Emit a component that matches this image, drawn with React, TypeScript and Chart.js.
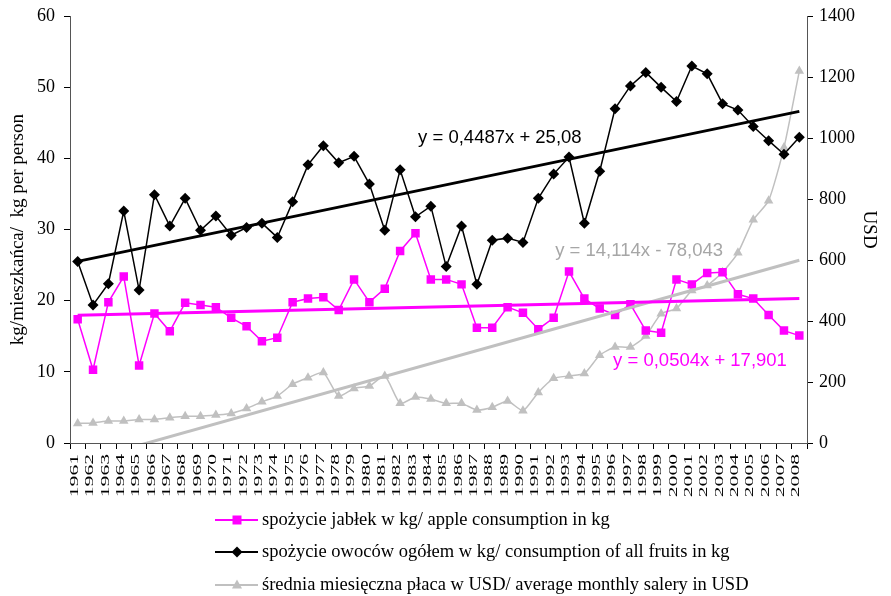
import React, { useEffect, useRef } from "react";
import { Chart, registerables } from "chart.js";

Chart.register(...registerables);

const years = [
  "1961", "1962", "1963", "1964", "1965", "1966", "1967", "1968", "1969", "1970",
  "1971", "1972", "1973", "1974", "1975", "1976", "1977", "1978", "1979", "1980",
  "1981", "1982", "1983", "1984", "1985", "1986", "1987", "1988", "1989", "1990",
  "1991", "1992", "1993", "1994", "1995", "1996", "1997", "1998", "1999", "2000",
  "2001", "2002", "2003", "2004", "2005", "2006", "2007", "2008",
];

const appleKg = [
  17.4, 10.3, 19.8, 23.4, 10.9, 18.2, 15.7, 19.7, 19.4, 19.1,
  17.6, 16.4, 14.3, 14.8, 19.8, 20.3, 20.5, 18.7, 23.0, 19.8,
  21.7, 27.0, 29.5, 23.0, 23.0, 22.3, 16.2, 16.2, 19.1, 18.3,
  16.0, 17.6, 24.1, 20.3, 18.9, 18.0, 19.5, 15.8, 15.5, 23.0,
  22.3, 23.9, 24.0, 20.9, 20.3, 18.0, 15.8, 15.1,
];

const fruitKg = [
  25.5, 19.4, 22.4, 32.6, 21.5, 34.9, 30.5, 34.4, 29.9, 31.9,
  29.2, 30.3, 30.9, 28.9, 33.9, 39.1, 41.8, 39.4, 40.3, 36.4,
  29.9, 38.4, 31.8, 33.3, 24.8, 30.5, 22.3, 28.5, 28.8, 28.2,
  34.4, 37.8, 40.2, 30.9, 38.2, 47.0, 50.2, 52.1, 50.0, 48.0,
  53.0, 51.9, 47.7, 46.8, 44.5, 42.5, 40.6, 43.0,
];

const salaryUsd = [
  64, 66, 72, 72, 77, 77, 83, 88, 88, 92,
  97, 113, 135, 154, 193, 214, 231, 154, 179, 187,
  220, 130, 151, 144, 130, 130, 108, 117, 138, 106,
  166, 212, 220, 228, 288, 315, 315, 351, 424, 441,
  500, 517, 560, 624, 732, 795, 969, 1220,
];

// Linear trend lines as printed on the chart (x = 1 .. 48)
const fruitTrend = [0.4487, 25.08];
const appleTrend = [0.0504, 17.901];
const salaryTrend = [14.114, -78.043];

const seriesNames = [
  "spożycie jabłek w kg/ apple consumption in kg",
  "spożycie owoców ogółem w kg/ consumption of all fruits in kg",
  "średnia miesięczna płaca w USD/ average monthly salery in USD",
];

const equationTexts = ["y = 0,4487x + 25,08", "y = 14,114x - 78,043", "y = 0,0504x + 17,901"];

const MAGENTA = "#FF00FF";
const BLACK = "#000000";
const GRAY = "#C0C0C0";
const GRAY_TEXT = "#A6A6A6";
const SERIF = '"Liberation Serif", "Times New Roman", serif';
const SANS = '"Liberation Sans", Arial, sans-serif';

const trendEnds = (c: number[]) =>
  years.map((_, i) => (i === 0 || i === years.length - 1 ? c[0] * (i + 1) + c[1] : null));

function drawMarker(ctx: CanvasRenderingContext2D, style: string, x: number, y: number) {
  ctx.beginPath();
  if (style === "rect") {
    ctx.rect(x - 4.5, y - 4.5, 9, 9);
  } else if (style === "rectRot") {
    ctx.moveTo(x, y - 5.5);
    ctx.lineTo(x + 5.5, y);
    ctx.lineTo(x, y + 5.5);
    ctx.lineTo(x - 5.5, y);
    ctx.closePath();
  } else {
    ctx.moveTo(x, y - 5.5);
    ctx.lineTo(x + 5, y + 3.5);
    ctx.lineTo(x - 5, y + 3.5);
    ctx.closePath();
  }
  ctx.fill();
}

const overlayPlugin = {
  id: "overlay",
  afterDraw(chart: any) {
    const ctx = chart.ctx as CanvasRenderingContext2D;
    const xs = chart.scales.x;
    const yl = chart.scales.y;
    const yr = chart.scales.y1;

    // rotated year labels
    ctx.save();
    ctx.fillStyle = "#000";
    ctx.font = `12px ${SERIF}`;
    ctx.textAlign = "right";
    ctx.textBaseline = "middle";
    years.forEach((lab, i) => {
      const px = xs.getPixelForValue(i) - 3;
      ctx.save();
      ctx.translate(px, xs.top + 11);
      ctx.rotate(-Math.PI / 2);
      ctx.scale(1.8, 1);
      ctx.fillText(lab, 0, 0);
      ctx.restore();
    });
    ctx.restore();

    // trend equations
    ctx.save();
    ctx.font = `18.5px ${SANS}`;
    ctx.textAlign = "left";
    ctx.textBaseline = "middle";
    ctx.fillStyle = BLACK;
    ctx.fillText(equationTexts[0], xs.getPixelForValue(22.17), yl.getPixelForValue(42.9));
    ctx.fillStyle = GRAY_TEXT;
    ctx.fillText(equationTexts[1], xs.getPixelForValue(31.1), yr.getPixelForValue(631));
    ctx.fillStyle = MAGENTA;
    ctx.fillText(equationTexts[2], xs.getPixelForValue(34.87), yl.getPixelForValue(11.6));
    ctx.restore();

    // legend
    const colors = [MAGENTA, BLACK, GRAY];
    const styles = ["rect", "rectRot", "triangle"];
    const rows = [520, 552, 585];
    ctx.save();
    ctx.font = `18.5px ${SERIF}`;
    ctx.textAlign = "left";
    ctx.textBaseline = "middle";
    rows.forEach((y, i) => {
      ctx.strokeStyle = colors[i];
      ctx.lineWidth = 2;
      ctx.beginPath();
      ctx.moveTo(215, y);
      ctx.lineTo(258, y);
      ctx.stroke();
      ctx.fillStyle = colors[i];
      drawMarker(ctx, styles[i], 237, y);
      ctx.fillStyle = "#000";
      ctx.fillText(seriesNames[i], 262, y);
    });
    ctx.restore();
  },
};

export default function App() {
  const ref = useRef<HTMLCanvasElement>(null);
  useEffect(() => {
    document.body.style.margin = "0";
    const canvas = ref.current!;
    const chart = new Chart(canvas, {
      type: "line",
      data: {
        labels: years,
        datasets: [
          {
            label: seriesNames[0],
            data: appleKg,
            yAxisID: "y",
            borderColor: MAGENTA,
            backgroundColor: MAGENTA,
            pointStyle: "rect",
            pointRadius: 6,
            pointBorderWidth: 0,
            borderWidth: 1.5,
            order: 2,
          },
          {
            label: seriesNames[1],
            data: fruitKg,
            yAxisID: "y",
            borderColor: BLACK,
            backgroundColor: BLACK,
            pointStyle: "rectRot",
            pointRadius: 5.5,
            pointBorderWidth: 0,
            borderWidth: 1.5,
            order: 1,
          },
          {
            label: seriesNames[2],
            data: salaryUsd,
            yAxisID: "y1",
            borderColor: GRAY,
            backgroundColor: GRAY,
            pointStyle: "triangle",
            pointRadius: 5.5,
            pointBorderWidth: 0,
            borderWidth: 1.5,
            tension: 0.2,
            order: 3,
          },
          {
            label: "trend fruits",
            data: trendEnds(fruitTrend),
            yAxisID: "y",
            borderColor: BLACK,
            borderWidth: 3,
            pointRadius: 0,
            spanGaps: true,
            order: 0,
          },
          {
            label: "trend apple",
            data: trendEnds(appleTrend),
            yAxisID: "y",
            borderColor: MAGENTA,
            borderWidth: 3,
            pointRadius: 0,
            spanGaps: true,
            order: 0,
          },
          {
            label: "trend salary",
            data: trendEnds(salaryTrend),
            yAxisID: "y1",
            borderColor: GRAY,
            borderWidth: 3,
            pointRadius: 0,
            spanGaps: true,
            clip: 0,
            order: 0,
          },
        ],
      },
      options: {
        responsive: false,
        animation: false,
        layout: { padding: { top: 0, left: 0, right: 0, bottom: 0 } },
        plugins: { legend: { display: false }, tooltip: { enabled: false } },
        scales: {
          x: {
            type: "category",
            offset: true,
            grid: { display: true, drawOnChartArea: false, offset: true, tickLength: 6, color: "#000" },
            border: { color: "#555", width: 1 },
            ticks: { display: false, autoSkip: false },
            afterFit(s: any) {
              s.height = 153;
            },
          },
          y: {
            position: "left",
            min: 0,
            max: 60,
            grid: { drawOnChartArea: false, tickLength: 6, color: "#000" },
            border: { color: "#555", width: 1 },
            ticks: { stepSize: 10, color: "#000", padding: 9, font: { family: SERIF, size: 18, lineHeight: 0.8 } },
            title: {
              display: true,
              text: "kg/mieszkańca/  kg per person",
              color: "#000",
              font: { family: SERIF, size: 19 },
              padding: { top: 7, bottom: 0 },
            },
            afterFit(s: any) {
              s.width = 70;
            },
          },
          y1: {
            position: "right",
            min: 0,
            max: 1400,
            grid: { drawOnChartArea: false, tickLength: 6, color: "#000" },
            border: { color: "#555", width: 1 },
            ticks: {
              stepSize: 200,
              color: "#000",
              padding: 6,
              font: { family: SERIF, size: 18, lineHeight: 0.8 },
              callback: (v: any) => String(v),
            },
            title: {
              display: true,
              text: "USD",
              color: "#000",
              font: { family: SERIF, size: 19 },
              padding: { top: 11, bottom: 0 },
            },
            afterFit(s: any) {
              s.width = 84;
            },
          },
        },
      },
      plugins: [overlayPlugin],
    } as any);
    return () => chart.destroy();
  }, []);
  return <canvas ref={ref} width={891} height={596} style={{ display: "block" }} />;
}
